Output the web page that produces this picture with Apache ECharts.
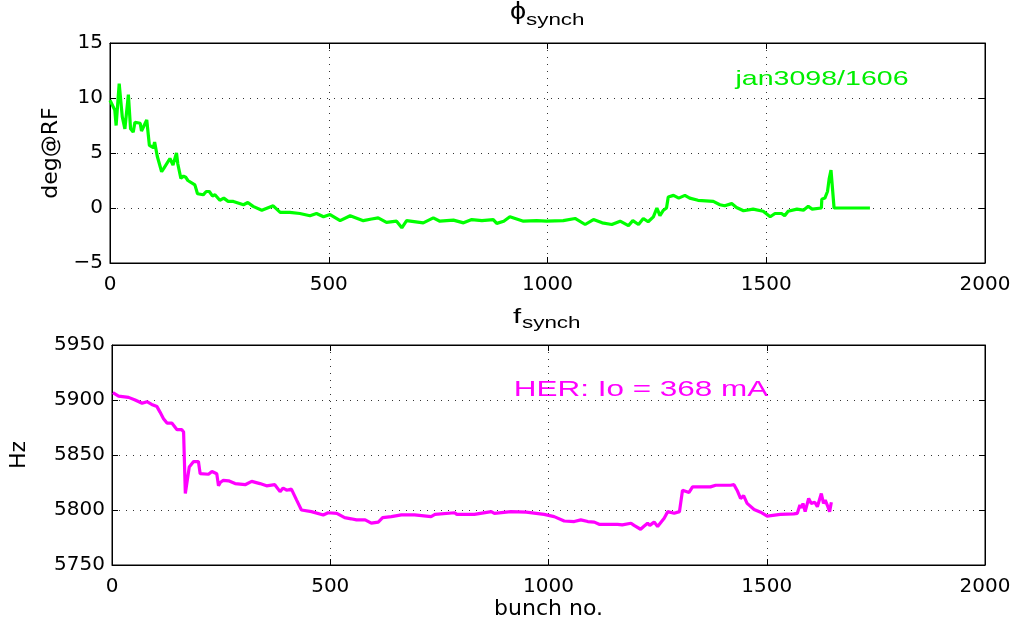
<!DOCTYPE html>
<html><head><meta charset="utf-8">
<script src="https://cdn.jsdelivr.net/npm/echarts@6/dist/echarts.min.js"></script>
<style>html,body{margin:0;padding:0;background:#fff}#c{width:1021px;height:623px}</style>
</head><body><div id="c"></div>
<script>
// ---- data ----
const phiX = [0,11,14,21,28,34,42,47,53,57,69,72,84,90,99,102,108,118,123,137,144,152,155,162,168,173,178,194,200,213,220,227,234,240,251,260,270,282,305,315,327,347,373,389,411,434,457,472,488,503,526,549,579,598,613,632,655,667,678,716,739,754,785,808,827,850,876,884,900,914,945,975,998,1036,1063,1086,1105,1125,1147,1166,1185,1195,1208,1219,1230,1242,1250,1257,1265,1272,1276,1288,1300,1314,1325,1344,1379,1394,1405,1421,1432,1448,1470,1493,1509,1520,1535,1542,1550,1570,1585,1596,1605,1626,1627,1634,1640,1644,1648,1652,1655,1737];
const phiY = [9.8,8.9,7.5,11.3,8.3,7.2,10.3,7.2,6.9,7.8,7.7,7.0,8.0,5.7,5.5,6.0,4.7,3.3,3.6,4.5,3.9,5.0,4.0,2.7,2.9,2.8,2.5,2.1,1.3,1.2,1.5,1.5,1.1,1.2,0.7,0.9,0.6,0.6,0.3,0.5,0.15,-0.2,0.2,-0.4,-0.4,-0.5,-0.7,-0.5,-0.8,-0.6,-1.15,-0.7,-1.15,-1.0,-0.9,-1.3,-1.2,-1.8,-1.15,-1.35,-0.9,-1.2,-1.1,-1.35,-1.05,-1.15,-1.05,-1.4,-1.2,-0.8,-1.2,-1.15,-1.2,-1.15,-0.95,-1.5,-1.05,-1.35,-1.5,-1.2,-1.6,-1.15,-1.5,-0.95,-1.25,-0.8,0,-0.7,-0.2,0,1.0,1.15,0.9,1.15,0.9,0.7,0.6,0.3,0.2,0.4,0.05,-0.25,-0.1,-0.3,-0.8,-0.5,-0.5,-0.7,-0.3,-0.1,-0.2,0.15,-0.1,0,0.8,0.9,1.5,2.7,3.45,3.45,0,0];
const fX = [2,15,38,53,69,80,91,103,110,118,126,137,141,149,160,164,168,172,177,187,198,202,221,229,240,244,248,255,267,282,305,320,339,354,373,385,392,400,411,423,434,457,484,495,515,533,548,560,580,594,610,620,640,663,693,731,740,785,790,830,869,876,914,949,990,1013,1036,1059,1074,1090,1105,1116,1158,1169,1189,1196,1211,1218,1227,1232,1242,1250,1265,1273,1288,1300,1307,1322,1330,1371,1383,1417,1425,1432,1440,1447,1455,1471,1486,1501,1531,1562,1570,1576,1580,1583,1588,1596,1602,1610,1616,1625,1630,1634,1640,1644,1648];
const fY = [5906.7,5903.6,5902.4,5900,5897,5898.5,5896,5894,5889,5883,5879,5879,5878.5,5873,5873,5871,5815,5813.5,5839,5844,5844,5833,5832.5,5835,5833,5822,5825,5827,5826.5,5824,5823,5826,5824,5822,5823,5816.7,5820,5818,5819,5809,5800,5798.5,5795.5,5797.5,5797,5793,5792,5791,5791,5788,5789,5793,5794,5795.5,5795.5,5794,5796,5797.5,5796,5796,5798.5,5797,5798.5,5798,5796,5794,5790,5789.5,5791,5789.5,5789,5787,5787,5786.5,5788,5786,5782.5,5785,5788,5786,5789,5785,5792.5,5798.5,5797,5798.5,5818,5816,5821,5821,5822.5,5822.5,5823,5818,5810.5,5813,5806,5800.5,5798,5794.5,5796,5796.5,5797,5804.5,5802,5806,5798.5,5810.5,5806,5807,5803,5815,5806,5809,5803,5798.5,5807];
const xTicks = [0, 500, 1000, 1500, 2000];
const phiTicks = [-5, 0, 5, 10, 15];
const fTicks = [5750, 5800, 5850, 5900, 5950];

const zip = (a, b) => a.map((v, i) => [v, b[i]]);
const FONT = 'DejaVu Sans';
const LFONT = 'Liberation Sans';
const fmt = v => (v < 0 ? '\u2212' + Math.abs(v) : String(v));

function xAx(grid, showLabel, pos, name) {
  return {
    type: 'value', gridIndex: grid, position: pos,
    min: xTicks[0], max: xTicks[xTicks.length - 1], interval: 500,
    axisLine: { show: true, onZero: false, lineStyle: { color: '#000', width: 1 } },
    axisTick: { show: true, inside: true, length: 6, lineStyle: { color: '#000' } },
    axisLabel: { show: showLabel, fontFamily: FONT, fontSize: 20, color: '#000', margin: 12, formatter: v => String(v) },
    splitLine: { show: showLabel, lineStyle: { color: '#333', type: [1, 6], width: 1 } },
    name: name || '', nameLocation: 'middle', nameGap: 32,
    nameTextStyle: { fontFamily: FONT, fontSize: 22, color: '#000' }
  };
}
function yAx(grid, ticks, showLabel, pos, name, gap) {
  return {
    type: 'value', gridIndex: grid, position: pos,
    min: ticks[0], max: ticks[ticks.length - 1], interval: ticks[1] - ticks[0],
    axisLine: { show: true, onZero: false, lineStyle: { color: '#000', width: 1 } },
    axisTick: { show: true, inside: true, length: 6, lineStyle: { color: '#000' } },
    axisLabel: { show: showLabel, fontFamily: FONT, fontSize: 20, color: '#000', margin: 7, formatter: fmt },
    splitLine: { show: showLabel, lineStyle: { color: '#333', type: [1, 6], width: 1 } },
    name: name || '', nameLocation: 'middle', nameGap: gap || 40, nameRotate: 90,
    nameTextStyle: { fontFamily: FONT, fontSize: 22, color: '#000' }
  };
}

const chart = echarts.init(document.getElementById('c'), null, { renderer: 'canvas' });
chart.setOption({
  animation: false,
  backgroundColor: '#fff',
  grid: [
    { left: 110, top: 43, width: 875, height: 220, show: true, borderColor: '#000', borderWidth: 1 },
    { left: 110, top: 345, width: 875, height: 220, show: true, borderColor: '#000', borderWidth: 1 }
  ],
  xAxis: [
    xAx(0, true, 'bottom'),
    xAx(1, true, 'bottom', 'bunch no.'),
    xAx(0, false, 'top'),
    xAx(1, false, 'top')
  ],
  yAxis: [
    yAx(0, phiTicks, true, 'left', 'deg@RF', 46),
    yAx(1, fTicks, true, 'left', 'Hz', 82),
    yAx(0, phiTicks, false, 'right'),
    yAx(1, fTicks, false, 'right')
  ],
  series: [
    { type: 'line', xAxisIndex: 0, yAxisIndex: 0, data: zip(phiX, phiY), showSymbol: false,
      lineStyle: { color: '#00ff00', width: 3.2 }, itemStyle: { color: '#00ff00' } },
    { type: 'line', xAxisIndex: 1, yAxisIndex: 1, data: zip(fX, fY), showSymbol: false,
      lineStyle: { color: '#ff00ff', width: 3.2 }, itemStyle: { color: '#ff00ff' } }
  ],
  graphic: [
    { type: 'text', x: 518, y: 12, scaleX: 1.2, style: { text: '\u03d5', fontFamily: LFONT, fontSize: 24, fill: '#000', align: 'center', verticalAlign: 'middle' } },
    { type: 'text', x: 526, y: 21, scaleX: 1.4, style: { text: 'synch', fontFamily: LFONT, fontSize: 16, fill: '#000', align: 'left', verticalAlign: 'middle' } },
    { type: 'text', x: 517, y: 317, scaleX: 1.4, style: { text: 'f', fontFamily: LFONT, fontSize: 21, fill: '#000', align: 'center', verticalAlign: 'middle' } },
    { type: 'text', x: 522, y: 324, scaleX: 1.4, style: { text: 'synch', fontFamily: LFONT, fontSize: 16, fill: '#000', align: 'left', verticalAlign: 'middle' } },
    { type: 'text', x: 822, y: 79, scaleX: 1.36, style: { text: 'jan3098/1606', fontFamily: LFONT, fontSize: 21, fill: '#00ee00', align: 'center', verticalAlign: 'middle' } },
    { type: 'text', x: 641, y: 390, scaleX: 1.43, style: { text: 'HER: Io = 368 mA', fontFamily: LFONT, fontSize: 22, fill: '#ff00ff', align: 'center', verticalAlign: 'middle' } }
  ]
});
</script></body></html>
